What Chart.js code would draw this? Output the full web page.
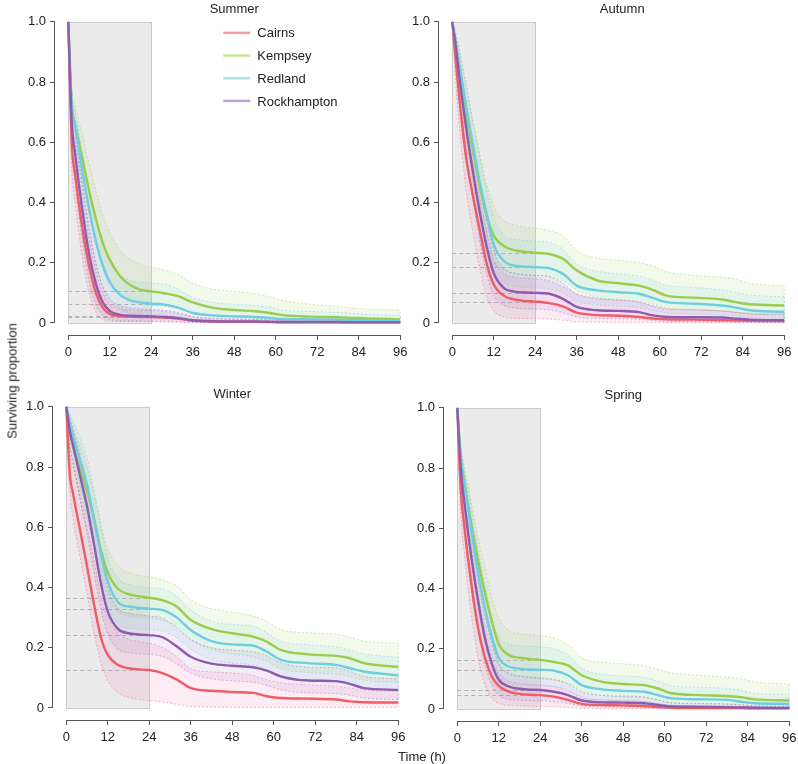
<!DOCTYPE html>
<html>
<head>
<meta charset="utf-8">
<title>Surviving proportion by season</title>
<script src="https://cdn.jsdelivr.net/npm/chart.js@4.4.1/dist/chart.umd.min.js"></script>
<style>
    html, body { margin: 0; padding: 0; background: #fff; overflow: hidden; }
    #wrap { position: relative; width: 798px; height: 764px; overflow: hidden; font-family: "Liberation Sans", Arial, sans-serif; color: #222; }
    #wrap canvas { position: absolute; }
    .ylab { position: absolute; left: 12px; top: 381px; transform: translate(-50%, -50%) rotate(-90deg); font-size: 13px; white-space: nowrap; }
    .xlab { position: absolute; left: 422px; top: 756px; transform: translate(-50%, -50%); font-size: 13px; white-space: nowrap; }
</style>
</head>
<body>
<div id="wrap">
    <canvas id="summer" width="420" height="370" style="left:5px;top:-2px"></canvas>
    <canvas id="autumn" width="420" height="370" style="left:389px;top:-2px"></canvas>
    <canvas id="winter" width="420" height="370" style="left:3px;top:383px"></canvas>
    <canvas id="spring" width="420" height="370" style="left:394px;top:384px"></canvas>
    <div class="ylab">Surviving proportion</div>
    <div class="xlab">Time (h)</div>
</div>
<script>
// time points (h) shared by every curve
const T = [0, 1, 2, 4, 6, 8, 10, 12, 15, 18, 21, 24, 28, 32, 36, 42, 48, 54, 58, 62, 70, 78, 82, 86, 96];

const sites = ['Cairns', 'Kempsey', 'Redland', 'Rockhampton'];
const xTicks = [0, 12, 24, 36, 48, 60, 72, 84, 96];
const yTicks = [0, 0.2, 0.4, 0.6, 0.8, 1.0];
const yTickLabels = ['0', '0.2', '0.4', '0.6', '0.8', '1.0'];

// Summer
const summerCairns = [1, 0.60, 0.49, 0.32, 0.19, 0.10, 0.05, 0.03, 0.023, 0.021, 0.02, 0.02, 0.018, 0.014, 0.008, 0.005, 0.004, 0.004, 0.003, 0.002, 0.002, 0.002, 0.002, 0.002, 0.002];
const summerKempsey = [1, 0.73, 0.66, 0.55, 0.44, 0.345, 0.265, 0.21, 0.155, 0.125, 0.11, 0.105, 0.098, 0.088, 0.068, 0.05, 0.043, 0.039, 0.034, 0.026, 0.021, 0.019, 0.017, 0.015, 0.012];
const summerRedland = [1, 0.72, 0.66, 0.51, 0.38, 0.27, 0.19, 0.135, 0.093, 0.074, 0.068, 0.064, 0.061, 0.05, 0.033, 0.025, 0.022, 0.02, 0.017, 0.013, 0.012, 0.011, 0.01, 0.009, 0.008];
const summerRockhampton = [1, 0.67, 0.56, 0.38, 0.23, 0.13, 0.068, 0.04, 0.027, 0.024, 0.023, 0.022, 0.02, 0.016, 0.009, 0.006, 0.005, 0.005, 0.004, 0.003, 0.003, 0.003, 0.002, 0.002, 0.002];
const summerCairnsLo = [1, 0.52, 0.40, 0.22, 0.10, 0.035, 0.012, 0.006, 0.004, 0.004, 0.004, 0.004, 0.003, 0.002, 0.001, 0.001, 0.001, 0.001, 0.001, 0.001, 0.001, 0.001, 0.001, 0.001, 0.001];
const summerCairnsHi = [1, 0.68, 0.57, 0.41, 0.28, 0.17, 0.10, 0.062, 0.048, 0.043, 0.042, 0.041, 0.038, 0.031, 0.02, 0.014, 0.012, 0.011, 0.009, 0.007, 0.006, 0.006, 0.005, 0.005, 0.004];
const summerKempseyLo = [1, 0.68, 0.60, 0.47, 0.36, 0.26, 0.19, 0.14, 0.095, 0.073, 0.063, 0.058, 0.054, 0.046, 0.034, 0.022, 0.018, 0.016, 0.013, 0.009, 0.007, 0.006, 0.005, 0.004, 0.003];
const summerKempseyHi = [1, 0.78, 0.72, 0.63, 0.53, 0.44, 0.36, 0.30, 0.24, 0.21, 0.195, 0.185, 0.175, 0.16, 0.132, 0.112, 0.105, 0.098, 0.088, 0.075, 0.062, 0.055, 0.05, 0.046, 0.043];
const summerRedlandLo = [1, 0.67, 0.60, 0.44, 0.30, 0.19, 0.12, 0.075, 0.045, 0.033, 0.03, 0.028, 0.026, 0.02, 0.012, 0.008, 0.007, 0.006, 0.005, 0.004, 0.003, 0.003, 0.002, 0.002, 0.002];
const summerRedlandHi = [1, 0.76, 0.70, 0.57, 0.45, 0.35, 0.27, 0.21, 0.16, 0.14, 0.135, 0.132, 0.128, 0.112, 0.085, 0.068, 0.062, 0.058, 0.052, 0.043, 0.038, 0.035, 0.032, 0.029, 0.025];
const summerRockhamptonLo = [1, 0.60, 0.47, 0.28, 0.14, 0.06, 0.025, 0.012, 0.008, 0.007, 0.007, 0.006, 0.006, 0.004, 0.002, 0.001, 0.001, 0.001, 0.001, 0.001, 0.001, 0.001, 0.001, 0.001, 0.001];
const summerRockhamptonHi = [1, 0.73, 0.64, 0.47, 0.32, 0.20, 0.12, 0.08, 0.058, 0.05, 0.047, 0.045, 0.042, 0.035, 0.022, 0.016, 0.014, 0.013, 0.011, 0.008, 0.007, 0.007, 0.006, 0.005, 0.005];

// Autumn
const autumnCairns = [1, 0.87, 0.75, 0.55, 0.42, 0.305, 0.195, 0.128, 0.09, 0.078, 0.073, 0.071, 0.066, 0.055, 0.034, 0.026, 0.024, 0.02, 0.015, 0.012, 0.011, 0.009, 0.008, 0.007, 0.006];
const autumnKempsey = [1, 0.92, 0.85, 0.70, 0.57, 0.45, 0.355, 0.29, 0.255, 0.242, 0.236, 0.233, 0.229, 0.213, 0.174, 0.141, 0.132, 0.124, 0.11, 0.091, 0.084, 0.078, 0.069, 0.062, 0.058];
const autumnRedland = [1, 0.93, 0.86, 0.72, 0.59, 0.465, 0.36, 0.26, 0.205, 0.19, 0.187, 0.185, 0.182, 0.163, 0.124, 0.108, 0.102, 0.097, 0.083, 0.069, 0.064, 0.058, 0.051, 0.042, 0.037];
const autumnRockhampton = [1, 0.92, 0.82, 0.65, 0.50, 0.365, 0.25, 0.165, 0.115, 0.104, 0.101, 0.10, 0.097, 0.08, 0.053, 0.042, 0.04, 0.036, 0.025, 0.02, 0.019, 0.018, 0.014, 0.011, 0.009];
const autumnCairnsLo = [1, 0.80, 0.66, 0.44, 0.30, 0.18, 0.085, 0.04, 0.02, 0.016, 0.015, 0.014, 0.013, 0.009, 0.004, 0.003, 0.002, 0.002, 0.002, 0.001, 0.001, 0.001, 0.001, 0.001, 0.001];
const autumnCairnsHi = [1, 0.92, 0.83, 0.65, 0.52, 0.41, 0.30, 0.21, 0.165, 0.152, 0.148, 0.146, 0.14, 0.12, 0.097, 0.082, 0.075, 0.068, 0.058, 0.048, 0.044, 0.04, 0.036, 0.033, 0.031];
const autumnKempseyLo = [1, 0.88, 0.79, 0.61, 0.47, 0.35, 0.26, 0.20, 0.175, 0.165, 0.16, 0.158, 0.155, 0.14, 0.11, 0.085, 0.078, 0.072, 0.063, 0.05, 0.045, 0.04, 0.035, 0.03, 0.027];
const autumnKempseyHi = [1, 0.96, 0.91, 0.79, 0.67, 0.56, 0.46, 0.39, 0.34, 0.325, 0.318, 0.315, 0.306, 0.29, 0.24, 0.215, 0.209, 0.20, 0.19, 0.17, 0.158, 0.152, 0.145, 0.132, 0.124];
const autumnRedlandLo = [1, 0.89, 0.80, 0.64, 0.50, 0.37, 0.26, 0.18, 0.135, 0.122, 0.118, 0.116, 0.113, 0.10, 0.072, 0.06, 0.055, 0.051, 0.042, 0.033, 0.03, 0.027, 0.023, 0.018, 0.015];
const autumnRedlandHi = [1, 0.96, 0.91, 0.79, 0.67, 0.55, 0.44, 0.35, 0.29, 0.278, 0.274, 0.272, 0.268, 0.245, 0.196, 0.172, 0.163, 0.156, 0.142, 0.125, 0.118, 0.11, 0.102, 0.093, 0.087];
const autumnRockhamptonLo = [1, 0.88, 0.76, 0.57, 0.41, 0.27, 0.16, 0.09, 0.058, 0.05, 0.047, 0.046, 0.044, 0.034, 0.02, 0.015, 0.014, 0.012, 0.008, 0.005, 0.005, 0.004, 0.003, 0.002, 0.002];
const autumnRockhamptonHi = [1, 0.95, 0.88, 0.73, 0.59, 0.46, 0.34, 0.24, 0.18, 0.165, 0.16, 0.158, 0.154, 0.132, 0.095, 0.08, 0.076, 0.07, 0.055, 0.045, 0.043, 0.04, 0.035, 0.03, 0.027];

// Winter
const winterCairns = [1, 0.78, 0.71, 0.59, 0.47, 0.345, 0.235, 0.176, 0.143, 0.132, 0.128, 0.126, 0.115, 0.094, 0.066, 0.057, 0.053, 0.05, 0.039, 0.033, 0.031, 0.028, 0.022, 0.019, 0.018];
const winterKempsey = [1, 0.93, 0.87, 0.79, 0.72, 0.63, 0.525, 0.45, 0.395, 0.378, 0.371, 0.366, 0.357, 0.336, 0.292, 0.262, 0.248, 0.237, 0.22, 0.193, 0.178, 0.173, 0.165, 0.149, 0.136];
const winterRedland = [1, 0.95, 0.90, 0.82, 0.74, 0.63, 0.515, 0.42, 0.35, 0.337, 0.333, 0.33, 0.325, 0.30, 0.259, 0.222, 0.211, 0.207, 0.187, 0.16, 0.149, 0.143, 0.132, 0.121, 0.108];
const winterRockhampton = [1, 0.92, 0.87, 0.77, 0.67, 0.545, 0.415, 0.32, 0.262, 0.248, 0.244, 0.242, 0.234, 0.204, 0.17, 0.147, 0.14, 0.135, 0.124, 0.105, 0.091, 0.089, 0.08, 0.066, 0.06];
const winterCairnsLo = [1, 0.72, 0.63, 0.50, 0.38, 0.25, 0.15, 0.09, 0.05, 0.035, 0.028, 0.024, 0.02, 0.012, 0.005, 0.003, 0.002, 0.002, 0.002, 0.002, 0.002, 0.002, 0.002, 0.002, 0.002];
const winterCairnsHi = [1, 0.85, 0.80, 0.70, 0.60, 0.49, 0.37, 0.30, 0.25, 0.228, 0.22, 0.215, 0.20, 0.17, 0.13, 0.12, 0.116, 0.108, 0.094, 0.084, 0.077, 0.072, 0.066, 0.06, 0.055];
const winterKempseyLo = [1, 0.88, 0.81, 0.71, 0.63, 0.54, 0.44, 0.37, 0.32, 0.305, 0.30, 0.297, 0.29, 0.27, 0.225, 0.195, 0.18, 0.17, 0.155, 0.13, 0.118, 0.112, 0.105, 0.092, 0.085];
const winterKempseyHi = [1, 0.97, 0.93, 0.87, 0.80, 0.71, 0.61, 0.53, 0.47, 0.45, 0.44, 0.435, 0.425, 0.405, 0.36, 0.33, 0.318, 0.305, 0.288, 0.26, 0.25, 0.245, 0.236, 0.222, 0.215];
const winterRedlandLo = [1, 0.91, 0.85, 0.74, 0.65, 0.53, 0.42, 0.34, 0.28, 0.265, 0.262, 0.26, 0.255, 0.232, 0.195, 0.16, 0.148, 0.143, 0.125, 0.10, 0.092, 0.087, 0.077, 0.068, 0.057];
const winterRedlandHi = [1, 0.98, 0.95, 0.90, 0.83, 0.73, 0.61, 0.50, 0.43, 0.41, 0.404, 0.40, 0.395, 0.37, 0.325, 0.288, 0.277, 0.272, 0.25, 0.222, 0.21, 0.203, 0.192, 0.18, 0.168];
const winterRockhamptonLo = [1, 0.87, 0.81, 0.69, 0.58, 0.45, 0.33, 0.245, 0.195, 0.183, 0.18, 0.178, 0.17, 0.145, 0.115, 0.097, 0.09, 0.085, 0.075, 0.06, 0.05, 0.048, 0.042, 0.033, 0.028];
const winterRockhamptonHi = [1, 0.96, 0.92, 0.84, 0.75, 0.63, 0.50, 0.40, 0.33, 0.315, 0.31, 0.305, 0.298, 0.265, 0.228, 0.20, 0.192, 0.187, 0.173, 0.15, 0.136, 0.133, 0.122, 0.105, 0.097];

// Spring
const springCairns = [1, 0.73, 0.61, 0.42, 0.27, 0.17, 0.108, 0.077, 0.057, 0.05, 0.047, 0.046, 0.041, 0.03, 0.017, 0.013, 0.012, 0.01, 0.006, 0.004, 0.003, 0.003, 0.003, 0.002, 0.002];
const springKempsey = [1, 0.84, 0.76, 0.62, 0.495, 0.385, 0.29, 0.215, 0.178, 0.17, 0.166, 0.163, 0.156, 0.145, 0.112, 0.09, 0.083, 0.079, 0.068, 0.052, 0.046, 0.043, 0.039, 0.032, 0.028];
const springRedland = [1, 0.83, 0.75, 0.60, 0.455, 0.335, 0.24, 0.17, 0.14, 0.134, 0.131, 0.13, 0.127, 0.112, 0.079, 0.065, 0.06, 0.057, 0.046, 0.035, 0.032, 0.03, 0.024, 0.019, 0.017];
const springRockhampton = [1, 0.80, 0.69, 0.51, 0.36, 0.235, 0.15, 0.097, 0.074, 0.067, 0.064, 0.063, 0.057, 0.046, 0.028, 0.022, 0.021, 0.019, 0.013, 0.008, 0.007, 0.006, 0.005, 0.004, 0.003];
const springCairnsLo = [1, 0.65, 0.52, 0.32, 0.17, 0.08, 0.035, 0.018, 0.012, 0.01, 0.009, 0.008, 0.007, 0.005, 0.002, 0.001, 0.001, 0.001, 0.001, 0.001, 0.001, 0.001, 0.001, 0.001, 0.001];
const springCairnsHi = [1, 0.79, 0.68, 0.50, 0.35, 0.24, 0.16, 0.12, 0.093, 0.085, 0.082, 0.08, 0.074, 0.06, 0.038, 0.03, 0.028, 0.025, 0.018, 0.012, 0.011, 0.01, 0.009, 0.007, 0.006];
const springKempseyLo = [1, 0.80, 0.70, 0.55, 0.42, 0.31, 0.22, 0.15, 0.115, 0.107, 0.103, 0.10, 0.095, 0.085, 0.06, 0.045, 0.04, 0.037, 0.03, 0.02, 0.017, 0.015, 0.013, 0.01, 0.008];
const springKempseyHi = [1, 0.88, 0.81, 0.69, 0.57, 0.47, 0.37, 0.30, 0.26, 0.25, 0.247, 0.244, 0.235, 0.215, 0.17, 0.155, 0.15, 0.143, 0.132, 0.12, 0.112, 0.105, 0.10, 0.09, 0.083];
const springRedlandLo = [1, 0.79, 0.70, 0.53, 0.38, 0.26, 0.17, 0.11, 0.085, 0.08, 0.078, 0.077, 0.074, 0.064, 0.04, 0.03, 0.027, 0.025, 0.018, 0.012, 0.01, 0.009, 0.007, 0.005, 0.004];
const springRedlandHi = [1, 0.87, 0.80, 0.67, 0.53, 0.41, 0.31, 0.24, 0.215, 0.21, 0.208, 0.206, 0.20, 0.18, 0.135, 0.115, 0.11, 0.105, 0.092, 0.078, 0.072, 0.068, 0.062, 0.052, 0.048];
const springRockhamptonLo = [1, 0.74, 0.61, 0.41, 0.26, 0.15, 0.08, 0.045, 0.032, 0.029, 0.028, 0.027, 0.024, 0.018, 0.01, 0.007, 0.006, 0.005, 0.003, 0.002, 0.002, 0.001, 0.001, 0.001, 0.001];
const springRockhamptonHi = [1, 0.85, 0.76, 0.60, 0.45, 0.32, 0.22, 0.15, 0.118, 0.11, 0.106, 0.104, 0.098, 0.083, 0.056, 0.045, 0.043, 0.04, 0.03, 0.02, 0.018, 0.017, 0.014, 0.011, 0.01];

const lineColors = ['#ee5c66', '#9dcb4c', '#70cde0', '#8d5cb0'];
const legendColors = ['#f59da3', '#cbe29a', '#abe2ee', '#bda3d4'];
const bandColors = ['rgba(238,92,130,0.55)', 'rgba(157,203,76,0.55)', 'rgba(112,205,224,0.6)', 'rgba(141,92,176,0.5)'];
const fillColors = ['rgba(245,110,170,0.13)', 'rgba(157,210,90,0.12)', 'rgba(112,205,224,0.12)', 'rgba(160,110,200,0.12)'];

const panels = [
    { id: 'summer', title: 'Summer', legend: true, titleShift: 0,
      mean: [summerCairns, summerKempsey, summerRedland, summerRockhampton],
      lo: [summerCairnsLo, summerKempseyLo, summerRedlandLo, summerRockhamptonLo],
      hi: [summerCairnsHi, summerKempseyHi, summerRedlandHi, summerRockhamptonHi] },
    { id: 'autumn', title: 'Autumn', legend: false, titleShift: 4,
      mean: [autumnCairns, autumnKempsey, autumnRedland, autumnRockhampton],
      lo: [autumnCairnsLo, autumnKempseyLo, autumnRedlandLo, autumnRockhamptonLo],
      hi: [autumnCairnsHi, autumnKempseyHi, autumnRedlandHi, autumnRockhamptonHi] },
    { id: 'winter', title: 'Winter', legend: false, titleShift: 0,
      mean: [winterCairns, winterKempsey, winterRedland, winterRockhampton],
      lo: [winterCairnsLo, winterKempseyLo, winterRedlandLo, winterRockhamptonLo],
      hi: [winterCairnsHi, winterKempseyHi, winterRedlandHi, winterRockhamptonHi] },
    { id: 'spring', title: 'Spring', legend: false, titleShift: 0,
      mean: [springCairns, springKempsey, springRedland, springRockhampton],
      lo: [springCairnsLo, springKempseyLo, springRedlandLo, springRockhamptonLo],
      hi: [springCairnsHi, springKempseyHi, springRedlandHi, springRockhamptonHi] }
];

const FONT = '"Liberation Sans", Arial, sans-serif';
Chart.defaults.font.family = FONT;
Chart.defaults.font.size = 13;

const toPoints = arr => T.map((t, i) => ({ x: t, y: arr[i] }));

function buildDatasets(p) {
    const ds = [];
    sites.forEach((name, i) => {
        const loIndex = ds.length;
        ds.push({
            label: name + ' lower', data: toPoints(p.lo[i]),
            borderColor: bandColors[i], borderWidth: 0.8, borderDash: [2, 2],
            fill: false, order: 20 - i
        });
        ds.push({
            label: name + ' upper', data: toPoints(p.hi[i]),
            borderColor: bandColors[i], borderWidth: 0.8, borderDash: [2, 2],
            fill: { target: loIndex, above: fillColors[i], below: fillColors[i] }, order: 20 - i
        });
    });
    sites.forEach((name, i) => {
        ds.push({
            label: name, data: toPoints(p.mean[i]),
            borderColor: lineColors[i], borderWidth: 2.4, fill: false, order: 10 - i
        });
    });
    return ds;
}

// grey 0-24 h window, dashed 24 h levels, R style axes, title and legend
function makeDecor(p) {
    return {
        id: 'decor_' + p.id,
        beforeDatasetsDraw(chart) {
            const { ctx, scales: { x, y } } = chart;
            const x0 = x.getPixelForValue(0), x24 = x.getPixelForValue(24);
            const y0 = y.getPixelForValue(0), y1 = y.getPixelForValue(1);
            ctx.save();
            ctx.fillStyle = '#ebebeb';
            ctx.fillRect(x0, y1, x24 - x0, y0 - y1);
            ctx.strokeStyle = '#cccccc';
            ctx.lineWidth = 1;
            ctx.strokeRect(Math.round(x0) + 0.5, Math.round(y1) + 0.5, Math.round(x24 - x0), Math.round(y0 - y1));
            const k = T.indexOf(24);
            ctx.setLineDash([4, 3]);
            ctx.strokeStyle = '#b2b2b2';
            p.mean.forEach(arr => {
                const py = Math.round(y.getPixelForValue(arr[k])) + 0.5;
                ctx.beginPath();
                ctx.moveTo(x0, py);
                ctx.lineTo(x24, py);
                ctx.stroke();
            });
            ctx.restore();
        },
        afterDatasetsDraw(chart) {
            // close each band at the last time point
            const { ctx, scales: { x, y } } = chart;
            const last = T.length - 1;
            const px = x.getPixelForValue(T[last]);
            ctx.save();
            ctx.lineWidth = 0.8;
            ctx.setLineDash([2, 2]);
            sites.forEach((name, i) => {
                ctx.strokeStyle = bandColors[i];
                ctx.beginPath();
                ctx.moveTo(px, y.getPixelForValue(p.lo[i][last]));
                ctx.lineTo(px, y.getPixelForValue(p.hi[i][last]));
                ctx.stroke();
            });
            ctx.restore();
        },
        afterDraw(chart) {
            const { ctx, chartArea, scales: { x, y } } = chart;
            ctx.save();
            ctx.strokeStyle = '#555';
            ctx.lineWidth = 1;
            const bx = Math.round(chartArea.bottom) + 0.5;
            ctx.beginPath();
            ctx.moveTo(x.getPixelForValue(xTicks[0]), bx);
            ctx.lineTo(x.getPixelForValue(xTicks[xTicks.length - 1]), bx);
            ctx.stroke();
            const lx = Math.round(chartArea.left) - 0.5;
            ctx.beginPath();
            ctx.moveTo(lx, y.getPixelForValue(yTicks[0]));
            ctx.lineTo(lx, y.getPixelForValue(yTicks[yTicks.length - 1]));
            ctx.stroke();

            ctx.fillStyle = '#222';
            ctx.font = '13px ' + FONT;
            ctx.textAlign = 'center';
            ctx.textBaseline = 'middle';
            ctx.fillText(p.title, x.getPixelForValue(48) + p.titleShift, y.getPixelForValue(1) - 12);

            if (p.legend) {
                const ox = x.getPixelForValue(0);
                const oy = y.getPixelForValue(1);
                ctx.textAlign = 'left';
                ctx.lineWidth = 2.5;
                sites.forEach((name, i) => {
                    const ry = oy + 11 + i * 22.7;
                    ctx.strokeStyle = legendColors[i];
                    ctx.beginPath();
                    ctx.moveTo(ox + 155, ry);
                    ctx.lineTo(ox + 182, ry);
                    ctx.stroke();
                    ctx.fillText(name, ox + 189, ry + 1);
                });
            }
            ctx.restore();
        }
    };
}

panels.forEach(p => {
    new Chart(document.getElementById(p.id), {
        type: 'line',
        data: { datasets: buildDatasets(p) },
        options: {
            responsive: false,
            animation: false,
            devicePixelRatio: 1,
            layout: { padding: { left: 0, top: 10, right: 11.5, bottom: 0 } },
            elements: {
                point: { radius: 0 },
                line: { cubicInterpolationMode: 'monotone' }
            },
            plugins: { legend: { display: false }, tooltip: { enabled: false } },
            scales: {
                x: {
                    type: 'linear', min: -3.84, max: 99.84,
                    afterBuildTicks: s => { s.ticks = xTicks.map(v => ({ value: v })); },
                    afterFit: s => { s.height = 33; },
                    ticks: { color: '#222', padding: 5, maxRotation: 0, autoSkip: false, callback: v => String(v) },
                    grid: { drawOnChartArea: false, drawTicks: true, tickLength: 5, color: '#555' },
                    border: { display: false }
                },
                y: {
                    type: 'linear', min: -0.04, max: 1.04,
                    afterBuildTicks: s => { s.ticks = yTicks.map(v => ({ value: v })); },
                    afterFit: s => { s.width = 50; },
                    ticks: { color: '#222', padding: 4, autoSkip: false, callback: v => yTickLabels[yTicks.indexOf(v)] },
                    grid: { drawOnChartArea: false, drawTicks: true, tickLength: 5, color: '#555' },
                    border: { display: false }
                }
            }
        },
        plugins: [makeDecor(p)]
    });
});
</script>
</body>
</html>
